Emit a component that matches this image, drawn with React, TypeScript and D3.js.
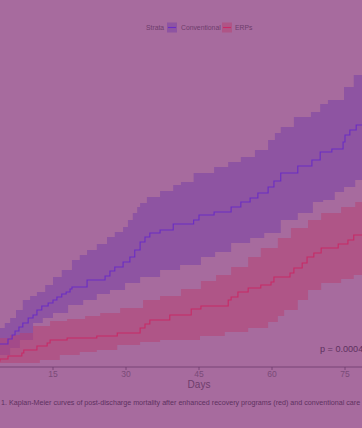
import React from "react";
import * as d3 from "d3";

// ---- Data (days, cumulative mortality %) ----
const strata = ["Conventional", "ERPs"];
const xTicks = [15, 30, 45, 60, 75];

const convEst: [number, number][] = [
  [0, 0], [1, 0.5], [2.5, 1.2], [3.5, 2.0], [5.75, 2.5], [6.6, 2.9], [7.2, 3.3], [8.0, 3.7], [8.8, 4.1],
  [9.9, 4.6], [10.9, 4.9], [11.7, 5.4], [12.7, 5.8], [14.0, 6.1], [15.0, 6.4], [15.8, 6.7], [16.8, 7.0],
  [17.7, 7.2], [18.5, 7.5], [18.9, 7.7], [22.0, 8.4], [25.7, 8.8], [26.7, 9.3], [27.7, 9.7], [29.4, 10.2],
  [30.8, 10.7], [31.8, 11.4], [32.9, 12.2], [33.9, 12.7], [34.9, 13.1], [37.0, 13.4], [39.7, 14.0],
  [43.9, 14.4], [45.0, 14.9], [48.1, 15.2], [51.6, 15.7], [53.6, 16.2], [55.5, 16.6], [57.1, 17.1],
  [59.2, 17.7], [60.4, 18.3], [61.8, 19.1], [65.3, 19.8], [68.2, 20.4], [69.9, 21.2], [72.3, 21.5],
  [74.6, 22.2], [75.0, 22.9], [76.0, 23.4], [77.3, 23.9], [79.1, 24.4],
];
const convUpper: [number, number][] = [
  [0, 0], [1, 1.5], [2.5, 2.8], [4.1, 3.6], [5.1, 4.1], [6.2, 4.6], [7.4, 5.4], [8.8, 6.4], [10.3, 6.8],
  [11.7, 7.2], [13.4, 7.9], [15.0, 8.7], [16.8, 9.4], [18.9, 10.4], [20.5, 10.9], [22.0, 11.4], [24.0, 12.0],
  [26.1, 12.7], [27.7, 13.2], [29.4, 13.7], [30.4, 14.4], [31.4, 15.1], [32.3, 15.7], [32.9, 16.1],
  [34.3, 16.7], [37.0, 17.3], [39.7, 17.9], [41.3, 18.2], [43.9, 19.1], [48.1, 19.7], [51.0, 20.2],
  [53.6, 20.7], [56.5, 21.4], [59.2, 22.4], [60.6, 23.1], [61.8, 23.7], [64.5, 24.7], [68.0, 25.2],
  [69.9, 26.0], [71.5, 26.4], [74.8, 27.7], [76.8, 28.9], [78.5, 29.4], [80.0, 29.9],
];
const convLower: [number, number][] = [
  [0, 0], [2, 0.3], [4.1, 0.9], [6.2, 1.6], [8.2, 2.4], [10.9, 4.1], [12.9, 4.6], [15.0, 5.1], [18.1, 5.9],
  [21.2, 6.4], [24.0, 7.0], [26.7, 7.4], [29.8, 8.1], [32.9, 8.7], [37.0, 9.4], [41.1, 9.9], [45.4, 10.7],
  [48.3, 11.2], [51.6, 12.1], [55.5, 12.6], [58.4, 13.1], [61.8, 14.4], [65.3, 15.1], [68.4, 16.2],
  [70.5, 16.4], [72.9, 17.2], [74.8, 17.7], [77.1, 18.4], [78.5, 18.7],
];

const erpEst: [number, number][] = [
  [0, 0], [2, 0.3], [4.1, 0.5], [5.75, 0.8], [8.6, 1.1], [9.0, 1.4], [11.7, 1.8], [13.8, 2.1], [14.4, 2.4],
  [17.9, 2.6], [24.0, 2.8], [28.2, 3.1], [32.9, 3.6], [33.9, 4.0], [34.9, 4.4], [39.0, 4.9], [43.4, 5.5],
  [45.4, 5.8], [51.0, 6.4], [51.6, 6.7], [53.0, 7.2], [55.1, 7.6], [57.7, 7.9], [59.8, 8.2], [60.4, 8.7],
  [63.7, 9.1], [64.5, 9.6], [66.2, 10.1], [67.2, 10.7], [68.6, 11.1], [70.1, 11.6], [73.6, 12.0],
  [75.6, 12.4], [76.8, 12.9],
];
const erpUpper: [number, number][] = [
  [0, 0], [2, 1.2], [4.1, 2.6], [6.2, 2.9], [8.2, 3.1], [10.9, 3.8], [14.4, 4.3], [17.9, 4.5], [21.6, 4.8],
  [24.7, 5.1], [28.8, 5.6], [33.5, 6.4], [37.0, 6.8], [41.3, 7.5], [45.4, 8.3], [48.5, 8.9], [51.6, 9.7],
  [55.1, 10.7], [57.7, 11.6], [61.2, 12.6], [63.9, 13.6], [67.4, 14.4], [70.1, 15.1], [74.2, 15.7],
  [77.1, 16.2], [78.5, 16.5],
];
const erpLower: [number, number][] = [
  [0, 0], [4.1, 0.1], [12.3, 0.4], [16.4, 0.9], [20.5, 1.2], [24.0, 1.4], [28.2, 1.9], [32.9, 2.2],
  [37.0, 2.4], [45.2, 2.8], [50.3, 3.2], [55.1, 3.6], [59.2, 4.2], [61.2, 4.8], [62.5, 5.4], [65.3, 6.4],
  [67.4, 7.4], [70.1, 8.1], [74.2, 8.5], [76.8, 8.9], [78.5, 9.2],
];

const pLabel = "p = 0.0004";
const caption =
  "1. Kaplan-Meier curves of post-discharge mortality after enhanced recovery programs (red) and conventional care (blue).";

const W = 362;
const H = 428;
const BG = "#a76b9e";
const TEXT = "#6e3d6c";

const x = d3.scaleLinear().domain([0, 90]).range([-20, 418]);
const y = d3.scaleLinear().domain([0, 30]).range([364, 64]);

function stepAt(arr: [number, number][], t: number) {
  let v = arr[0][1];
  for (const [tt, vv] of arr) {
    if (tt <= t) v = vv;
    else break;
  }
  return v;
}

function bandPath(lo: [number, number][], hi: [number, number][]) {
  const times = Array.from(new Set([...lo.map((d) => d[0]), ...hi.map((d) => d[0]), 90])).sort(
    (a, b) => a - b
  );
  const data = times.map((t) => ({ t, lo: stepAt(lo, t), hi: stepAt(hi, t) }));
  return d3
    .area<{ t: number; lo: number; hi: number }>()
    .x((d) => x(d.t))
    .y0((d) => y(d.lo))
    .y1((d) => y(d.hi))
    .curve(d3.curveStepAfter)(data) as string;
}

function linePath(est: [number, number][]) {
  const data = [...est, [90, est[est.length - 1][1]] as [number, number]];
  return d3
    .line<[number, number]>()
    .x((d) => x(d[0]))
    .y((d) => y(d[1]))
    .curve(d3.curveStepAfter)(data) as string;
}

const series = [
  { name: strata[0], est: convEst, lo: convLower, hi: convUpper, fill: "#753da6", line: "#6a2cc4" },
  { name: strata[1], est: erpEst, lo: erpLower, hi: erpUpper, fill: "#b73f70", line: "#c82a66" },
];

export default function App() {
  const axisY = 367;
  return (
    <div style={{ position: "fixed", left: 0, top: 0, width: W, height: H, background: BG }}>
      <svg width={W} height={H} style={{ display: "block" }} fontFamily="Liberation Sans, Arial, sans-serif">
        <rect x={0} y={0} width={W} height={H} fill={BG} />
        {series.map((s) => (
          <path key={s.name + "b"} d={bandPath(s.lo, s.hi)} fill={s.fill} fillOpacity={0.5} stroke="none" />
        ))}
        {series.map((s) => (
          <path key={s.name + "l"} d={linePath(s.est)} fill="none" stroke={s.line} strokeWidth={1.1} />
        ))}
        {/* x axis */}
        <line x1={0} x2={W} y1={axisY} y2={axisY} stroke="#6c3a6c" strokeWidth={0.8} />
        {xTicks.map((t) => (
          <g key={t} transform={`translate(${x(t)},${axisY})`}>
            <line y1={0} y2={3} stroke="#6c3a6c" strokeWidth={0.8} />
            <text y={9.5} textAnchor="middle" fontSize={8.5} fill="#7a4a78">
              {t}
            </text>
          </g>
        ))}
        <text x={199} y={387.5} textAnchor="middle" fontSize={10} fill={TEXT}>
          Days
        </text>
        <text x={320} y={352} fontSize={9.1} fill="#5e3160">
          {pLabel}
        </text>
        {/* legend */}
        <text x={146} y={30} fontSize={6.8} fill={TEXT}>
          Strata
        </text>
        {series.map((s, i) => {
          const kx = i === 0 ? 167 : 222;
          const tx = i === 0 ? 181 : 235;
          return (
            <g key={s.name + "k"}>
              <rect x={kx} y={22.5} width={10} height={10} fill={s.fill} fillOpacity={0.5} />
              <line x1={kx + 1} x2={kx + 9} y1={27.5} y2={27.5} stroke={s.line} strokeWidth={1.1} />
              <text x={tx} y={30} fontSize={6.8} fill={TEXT}>
                {s.name}
              </text>
            </g>
          );
        })}
        <text x={1} y={405} fontSize={7.15} fill="#5e3160">
          {caption}
        </text>
      </svg>
    </div>
  );
}
